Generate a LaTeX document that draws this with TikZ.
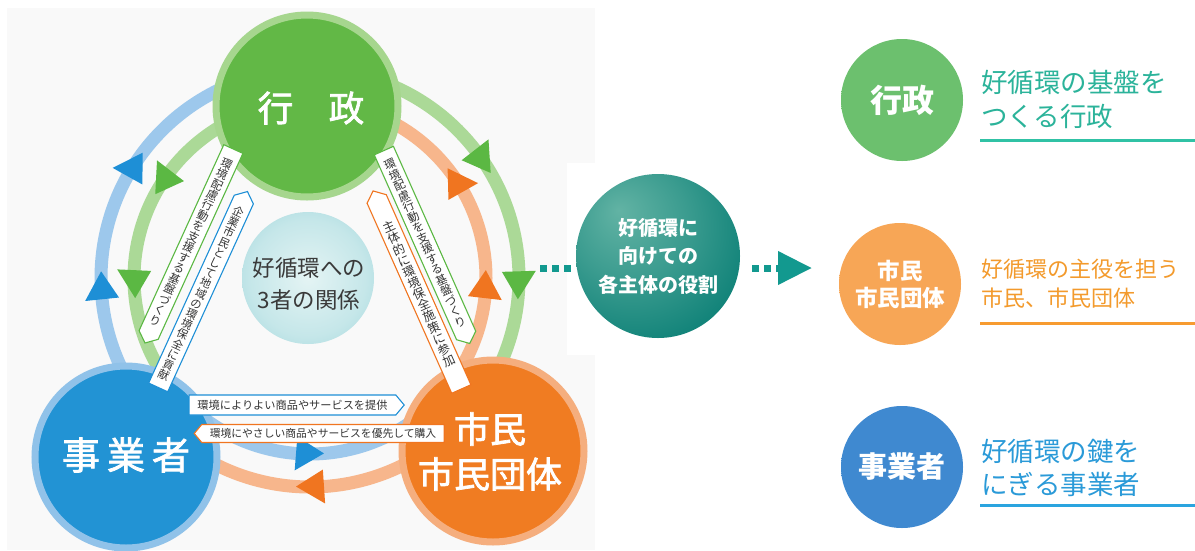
\documentclass[tikz,border=0pt]{standalone}
\usepackage{fontspec}
\setmainfont{Noto Sans CJK JP}
\newfontfamily\jpmed{Noto Sans CJK JP}[FakeBold=2]
\usetikzlibrary{shapes.symbols,arrows.meta}
\definecolor{panel}{HTML}{F9F9F9}
\definecolor{gD}{HTML}{62B846}
\definecolor{gL}{HTML}{A6D68E}
\definecolor{gA}{HTML}{ABD997}
\definecolor{gT}{HTML}{5BB843}
\definecolor{bD}{HTML}{2293D4}
\definecolor{bL}{HTML}{90C2E9}
\definecolor{bA}{HTML}{9DC8EC}
\definecolor{bT}{HTML}{1E8FD6}
\definecolor{oD}{HTML}{F07C22}
\definecolor{oL}{HTML}{F5AE7E}
\definecolor{oA}{HTML}{F7B68C}
\definecolor{oT}{HTML}{F07520}
\definecolor{tealhi}{HTML}{62B3A4}
\definecolor{tealmid}{HTML}{13847A}
\definecolor{tealdark}{HTML}{0B6E64}
\definecolor{tealedge}{HTML}{06403A}
\definecolor{conn}{HTML}{12998F}
\definecolor{rG}{HTML}{6CC06E}
\definecolor{rO}{HTML}{F7A656}
\definecolor{rB}{HTML}{3F89D0}
\definecolor{tG}{HTML}{2BB39A}
\definecolor{tO}{HTML}{F39A2C}
\definecolor{tB}{HTML}{2A9AD8}
\definecolor{uG}{HTML}{30C2A5}
\definecolor{uO}{HTML}{F79B30}
\definecolor{uB}{HTML}{2AA4DF}
\definecolor{blobA}{HTML}{E4F4F4}
\definecolor{blobB}{HTML}{A6D9DE}
\definecolor{txt}{HTML}{3A3A3A}
\definecolor{boxtxt}{HTML}{333333}
\pgfdeclareradialshading{blobsh}{\pgfpointorigin}{color(0bp)=(blobA); color(22bp)=(blobA!50!blobB); color(34bp)=(blobB); color(50bp)=(panel)}
\pgfdeclareradialshading{tealball}{\pgfpoint{-12bp}{14bp}}{color(0bp)=(tealhi); color(18bp)=(tealhi!50!tealmid); color(34bp)=(tealmid); color(52bp)=(tealdark); color(62bp)=(tealedge); color(72bp)=(tealedge)}
\pgfdeclareradialshading{rgs}{\pgfpointorigin}{color(0bp)=(rG); color(39bp)=(rG); color(50bp)=(white)}
\pgfdeclareradialshading{ros}{\pgfpointorigin}{color(0bp)=(rO); color(39bp)=(rO); color(50bp)=(white)}
\pgfdeclareradialshading{rbs}{\pgfpointorigin}{color(0bp)=(rB); color(39bp)=(rB); color(50bp)=(white)}
\newcommand\arrtri[4]{%
  \fill[#1, shift={(C)}] ({#3+#4*14/#2*57.2958}:#2) -- ({#3-#4*14/#2*57.2958}:{#2-17}) -- ({#3-#4*14/#2*57.2958}:{#2+17}) -- cycle;}
\makeatletter
\def\vcol@step#1#2\@nil{\hbox{#1}\ifx\relax#2\relax\else\vcol@step#2\@nil\fi}
\newcommand\vcol[2]{\vbox{\baselineskip=#1pt\lineskiplimit=-\maxdimen\lineskip=0pt\vcol@step#2\@nil}}
\makeatother
\begin{document}
\begin{tikzpicture}[x=1pt,y=-1pt,
  arcw/.style={line width=13pt},
  mainc/.style={circle, minimum size=182pt, inner sep=0pt, line width=7pt},
  lbl/.style={signal, draw, fill=white, line width=1.1pt, inner sep=1pt, text=boxtxt, signal pointer angle=100, minimum height=21pt},
  vlbl/.style={signal, draw, fill=white, line width=1.1pt, inner sep=1pt, text=boxtxt, signal pointer angle=100, minimum width=21pt},
  rcirc/.style={circle, minimum size=122pt, inner sep=0pt, text=white, align=center},
  rtext/.style={anchor=west, align=left, inner sep=0pt},
  dots/.style={conn, line width=7pt, dash pattern=on 7pt off 5pt}]
\useasboundingbox (0,0) rectangle (1195,550);
\fill[white] (0,0) rectangle (1195,550);
\fill[panel] (7,8) rectangle (595,550);
\fill[white] (567,163) rectangle (595,355);
\coordinate (C) at (310,278);
% central blob
\shade[shading=blobsh] (308,278) circle[radius=66];
\node[align=center, text=txt, font=\fontsize{22.5}{32}\selectfont] (rel) at (309,284) {好循環への\\3者の関係};
% arcs
\draw[arcw, bA] (C) ++(136:209) arc[start angle=136, end angle=270, radius=209];
\draw[arcw, gA] (C) ++(-90:209) arc[start angle=-90, end angle=43, radius=209];
\draw[arcw, oA] (C) ++(43:209) arc[start angle=43, end angle=136, radius=209];
\draw[arcw, gA] (C) ++(136:176) arc[start angle=136, end angle=270, radius=176];
\draw[arcw, oA] (C) ++(-90:176) arc[start angle=-90, end angle=43, radius=176];
\draw[arcw, bA] (C) ++(43:176) arc[start angle=43, end angle=136, radius=176];
% arrow heads on arcs
\arrtri{bT}{209}{213}{1}
\arrtri{bT}{209}{178}{1}
\arrtri{gT}{176}{213}{-1}
\arrtri{gT}{176}{178}{-1}
\arrtri{gT}{209}{-34}{1}
\arrtri{gT}{209}{2}{1}
\arrtri{oT}{176}{-34}{-1}
\arrtri{oT}{176}{2}{-1}
\arrtri{bT}{176}{90}{-1}
\arrtri{oT}{209}{90}{1}
% main circles
\node[mainc, fill=gD, draw=gL] (gov) at (307,106) {};
\node[mainc, fill=bD, draw=bL] (biz) at (126,457) {};
\node[mainc, fill=oD, draw=oL] (cit) at (493,451) {};
\node[text=white, font=\jpmed\fontsize{35.5}{40}\selectfont] (govt) at (311,108) {行　政};
\node[text=white, font=\jpmed\fontsize{38}{42}\selectfont] (bizt) at (126,455) {事\kern7pt業\kern7pt者};
\node[text=white, align=center, font=\jpmed\fontsize{36}{45}\selectfont] (citt) at (490,451.5) {市民\\市民団体};
% label arrows (vertical writing, tilted)
\node[vlbl, draw=gT, rotate=-24.5, signal to=south, minimum height=210pt, font=\fontsize{11.5}{11.5}\selectfont] (lg) at (191,242) {\vcol{11.5}{環境配慮行動を支援する基盤づくり}};
\node[vlbl, draw=bT, rotate=-24.5, signal to=north, minimum height=212pt, font=\fontsize{11.2}{11.2}\selectfont] (lb) at (201,293.5) {\vcol{11.2}{企業市民として地域の環境保全に貢献}};
\node[vlbl, draw=gT, rotate=24, signal to=south, minimum height=208pt, font=\fontsize{11.5}{11.5}\selectfont] (rg) at (425,243) {\vcol{11.5}{環境配慮行動を支援する基盤づくり}};
\node[vlbl, draw=oT, rotate=24, signal to=north, minimum height=214pt, font=\fontsize{12.2}{12.2}\selectfont] (ro) at (419,294) {\vcol{12.2}{主体的に環境保全施策に参加}};
\node[lbl, draw=bT, signal to=east, minimum width=215pt, minimum height=20pt, font=\fontsize{11.2}{12}\selectfont] (b1) at (292.5,405) {環境によりよい商品やサービスを提供};
\node[lbl, draw=oT, signal to=west, minimum width=250pt, minimum height=18pt, font=\fontsize{10.8}{12}\selectfont] (b2) at (323,433.5) {環境にやさしい商品やサービスを優先して購入};
% centre ball and connectors
\coordinate (Lend) at (540,268);
\coordinate (Rend) at (812,268);
\node[circle, minimum size=164pt, inner sep=0pt, shading=tealball, text=white, align=center, font=\bfseries\fontsize{20}{28.5}\selectfont] (tc) at (658,256) {好循環に\\向けての\\各主体の役割};
\draw[dots] (Lend) -- (Lend -| tc.west);
\draw[dots, shorten <=12pt, -{Triangle[length=34pt,width=32pt]}] (Rend -| tc.east) -- (Rend);
% right column
\node[rcirc, shading=rgs, font=\bfseries\fontsize{32}{36}\selectfont] (rgov) at (902,100) {行政};
\node[rcirc, shading=ros, font=\bfseries\fontsize{22.5}{27}\selectfont] (rcit) at (900,284) {市民\\市民団体};
\node[rcirc, shading=rbs, font=\bfseries\fontsize{29}{33}\selectfont] (rbiz) at (902,467) {事業者};
\node[rtext, text=tG, font=\fontsize{26.5}{34}\selectfont] (t1) at (981,99) {好循環の基盤を\\つくる行政};
\node[rtext, text=tO, font=\fontsize{22}{29}\selectfont] (t2) at (981,283.5) {好循環の主役を担う\\市民、市民団体};
\node[rtext, text=tB, font=\fontsize{26.5}{33}\selectfont] (t3) at (981,468) {好循環の鍵を\\にぎる事業者};
\draw[uG, line width=3pt] (980,140.5) -- (1195,140.5);
\draw[uO, line width=3pt] (980,323.5) -- (1195,323.5);
\draw[uB, line width=3pt] (980,505) -- (1195,505);
\end{tikzpicture}
\end{document}
